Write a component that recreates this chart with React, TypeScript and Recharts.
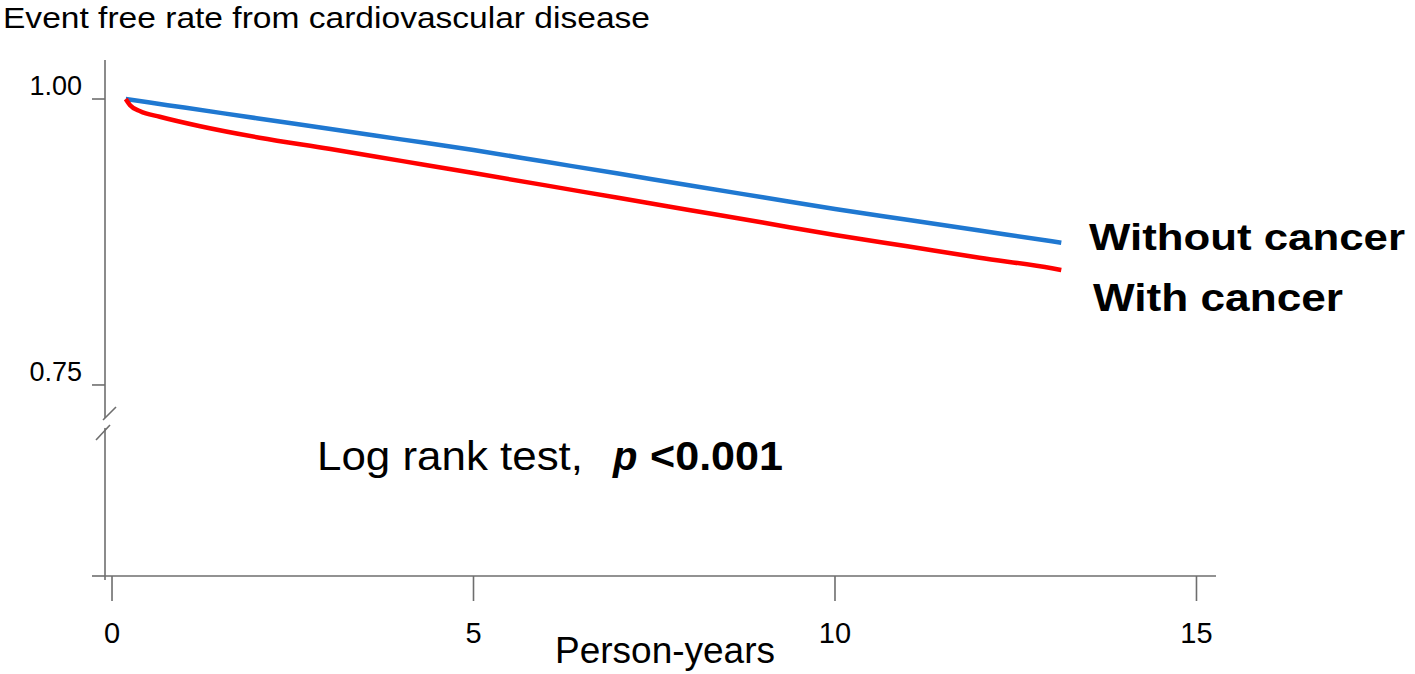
import React from 'react';
import { LineChart, Line, XAxis, YAxis, Customized } from 'recharts';

const FONT = '"Liberation Sans", Arial, sans-serif';
const AXIS = '#6e6e6e';

// Kaplan-Meier style curves
const withoutYears = [0.19, 0.5, 1, 2, 3, 4, 5, 6, 7, 8, 9, 10, 11, 12, 13, 13.13];
const withoutValues = [1.0, 0.9971, 0.9925, 0.9832, 0.974, 0.9647, 0.9554, 0.9451, 0.9348, 0.9244, 0.9141, 0.9038, 0.8944, 0.885, 0.8756, 0.8743];
const withYears = [0.19, 0.25, 0.39, 0.66, 1.22, 2.04, 3, 4, 5, 6, 7, 8, 9, 10, 11, 12, 13, 13.13];
const withValues = [1.0, 0.9945, 0.9893, 0.9845, 0.9762, 0.9662, 0.9565, 0.9459, 0.9353, 0.9245, 0.9136, 0.9028, 0.892, 0.8811, 0.8712, 0.8612, 0.852, 0.8505];

const xTicks = [0, 5, 10, 15];
const yTicks = [1.0, 0.75];
const yBreak = 0.7168;
const yMin = 0.583;
const yMax = 1.0341;
const xMin = -0.097;
const xMax = 15.27;

const withoutData = withoutYears.map((t, i) => ({ t, v: withoutValues[i] }));
const withData = withYears.map((t, i) => ({ t, v: withValues[i] }));

const YTick = (props: any) => {
  const { x, y, payload } = props;
  const val = payload.value;
  if (Math.abs(val - yBreak) < 1e-6) {
    return (
      <g>
        <rect x={x - 3} y={y - 5} width={6} height={10} fill="#fff" />
        <line x1={x - 2} y1={y - 3} x2={x + 11} y2={y - 16} stroke={AXIS} strokeWidth={1.6} />
        <line x1={x - 9} y1={y + 17} x2={x + 5} y2={y + 2} stroke={AXIS} strokeWidth={1.6} />
      </g>
    );
  }
  if (Math.abs(val - yMin) < 1e-6) {
    return (
      <g>
        <line x1={x - 13} y1={y} x2={x} y2={y} stroke={AXIS} strokeWidth={1.6} />
        <line x1={x} y1={y} x2={x} y2={y + 4} stroke={AXIS} strokeWidth={1.6} />
      </g>
    );
  }
  return (
    <g>
      <line x1={x - 13} y1={y} x2={x} y2={y} stroke={AXIS} strokeWidth={1.6} />
      <text
        x={x - 23}
        y={y - 4}
        textAnchor="end"
        fontSize={27}
        fontFamily={FONT}
        fill="#000"
      >
        {val.toFixed(2)}
      </text>
    </g>
  );
};

const Annotations = () => (
  <g fontFamily={FONT} fill="#000">
    <text x={3} y={28} fontSize={30} textLength={647} lengthAdjust="spacingAndGlyphs">
      Event free rate from cardiovascular disease
    </text>
    <text x={1089} y={250} fontSize={37} fontWeight="bold" textLength={316} lengthAdjust="spacingAndGlyphs">
      Without cancer
    </text>
    <text x={1093} y={311} fontSize={38} fontWeight="bold" textLength={250} lengthAdjust="spacingAndGlyphs">
      With cancer
    </text>
    <text x={317} y={470} fontSize={40} textLength={266} lengthAdjust="spacingAndGlyphs">
      Log rank test,
    </text>
    <text x={613} y={470} fontSize={40} fontWeight="bold" fontStyle="italic">
      p
    </text>
    <text x={650} y={470} fontSize={40} fontWeight="bold" textLength={133} lengthAdjust="spacingAndGlyphs">
      {'<0.001'}
    </text>
    <text x={555} y={663} fontSize={36} textLength={220} lengthAdjust="spacingAndGlyphs">
      Person-years
    </text>
  </g>
);

export default function App() {
  return (
    <div style={{ position: 'absolute', left: 0, top: 0, background: '#fff' }}>
      <LineChart
        width={1415}
        height={674}
        margin={{ top: 60, right: 199, bottom: 38, left: 45 }}
        style={{ fontFamily: FONT }}
      >
        <XAxis
          type="number"
          dataKey="t"
          domain={[xMin, xMax]}
          allowDataOverflow
          ticks={xTicks}
          height={60}
          tickSize={25}
          tickMargin={21}
          axisLine={{ stroke: AXIS, strokeWidth: 1.6 }}
          tickLine={{ stroke: AXIS, strokeWidth: 1.6 }}
          tick={{ fill: '#000', fontSize: 29, fontFamily: FONT }}
          interval={0}
        />
        <YAxis
          type="number"
          dataKey="v"
          domain={[yMin, yMax]}
          allowDataOverflow
          ticks={[...yTicks, yBreak, yMin]}
          width={60}
          tickSize={0}
          tickMargin={0}
          interval={0}
          axisLine={{ stroke: AXIS, strokeWidth: 1.6 }}
          tickLine={false}
          tick={<YTick />}
        />
        <Line
          data={withoutData}
          dataKey="v"
          type="monotone"
          stroke="#1f78d1"
          strokeWidth={4.5}
          dot={false}
          isAnimationActive={false}
        />
        <Line
          data={withData}
          dataKey="v"
          type="monotone"
          stroke="#ff0000"
          strokeWidth={4.5}
          dot={false}
          isAnimationActive={false}
        />
        <Customized component={<Annotations />} />
      </LineChart>
    </div>
  );
}
